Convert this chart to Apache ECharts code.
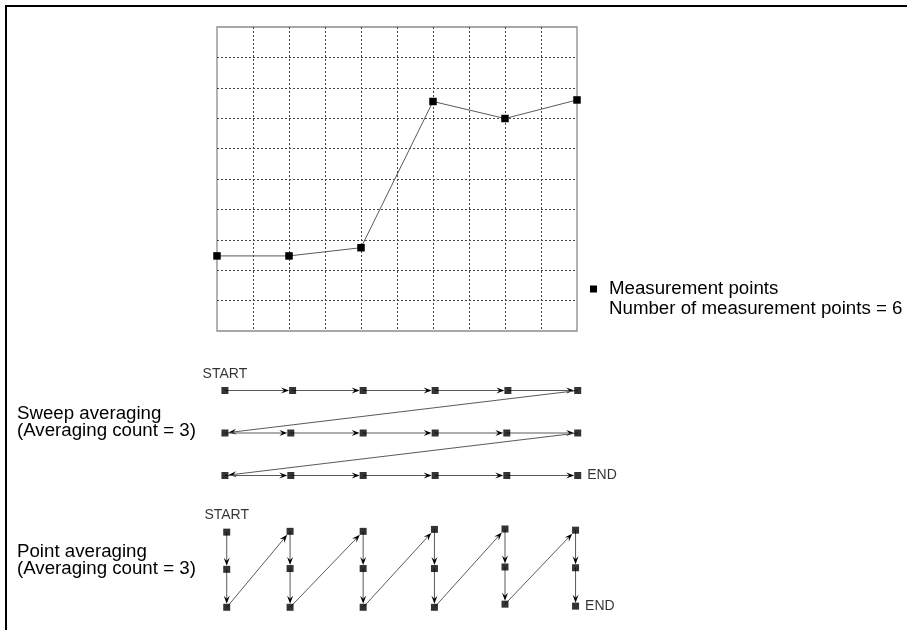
<!DOCTYPE html>
<html>
<head>
<meta charset="utf-8">
<script src="https://cdn.jsdelivr.net/npm/echarts@6/dist/echarts.min.js"></script>
<style>
  html, body { margin: 0; padding: 0; background: #fff; }
  #main { width: 907px; height: 630px; }
</style>
</head>
<body>
<div id="main"></div>
<script>
  // measurement trace (x in grid divisions, y in grid divisions)
  const traceX = [0, 2, 4, 6, 8, 10]
  const traceY = [2.47, 2.47, 2.74, 7.55, 6.99, 7.6]

  // sweep averaging: 3 rows of 6 points, swept row by row
  const sweepX = [
    [0.22, 2.1, 4.06, 6.06, 8.08, 10.02],
    [0.22, 2.05, 4.06, 6.06, 8.05, 10.02],
    [0.22, 2.05, 4.06, 6.06, 8.05, 10.02]
  ]
  const sweepRow = [0, 1, 2]

  // point averaging: 6 columns of 3 points, column by column
  const pointX = [0.27, 2.03, 4.06, 6.04, 8.0, 9.96]
  const pointY = [
    [0.08, 1.03, 2.0],
    [0.06, 1.01, 2.0],
    [0.06, 1.01, 2.0],
    [0.01, 1.01, 2.0],
    [0.0, 0.97, 1.92],
    [0.03, 0.99, 1.97]
  ]

  const FONT = '"Liberation Sans", Arial, sans-serif'

  // build the visiting order of each diagram
  const sweepPath = []
  sweepRow.forEach((r, i) => {
    sweepX[i].forEach(x => sweepPath.push([x, r]))
  })
  const pointPath = []
  pointX.forEach((x, i) => {
    pointY[i].forEach(y => pointPath.push([x, y]))
  })

  function segments(path) {
    const out = []
    for (let i = 0; i < path.length - 1; i++) {
      out.push([path[i][0], path[i][1], path[i + 1][0], path[i + 1][1]])
    }
    return out
  }

  function markers(path) {
    return path.map((p, i) => {
      const item = { value: p }
      if (i === 0) {
        item.label = { show: true, formatter: 'START', position: 'top', distance: 6 }
      } else if (i === path.length - 1) {
        item.label = { show: true, formatter: 'END', position: 'right', distance: 6 }
      }
      return item
    })
  }

  function renderArrow(params, api) {
    const a = api.coord([api.value(0), api.value(1)])
    const b = api.coord([api.value(2), api.value(3)])
    const dx = b[0] - a[0]
    const dy = b[1] - a[1]
    const len = Math.sqrt(dx * dx + dy * dy)
    const ux = dx / len
    const uy = dy / len
    const half = 3.5 / Math.max(Math.abs(ux), Math.abs(uy))
    const tip = [b[0] - ux * half, b[1] - uy * half]
    const headLen = 8
    const headW = 3
    const notchLen = 5
    const base = [tip[0] - ux * headLen, tip[1] - uy * headLen]
    const notch = [tip[0] - ux * notchLen, tip[1] - uy * notchLen]
    const px = -uy
    const py = ux
    return {
      type: 'group',
      children: [{
        type: 'line',
        shape: { x1: a[0], y1: a[1], x2: notch[0], y2: notch[1] },
        style: { stroke: '#5a5a5a', lineWidth: 1 }
      }, {
        type: 'polygon',
        shape: {
          points: [tip, [base[0] + px * headW, base[1] + py * headW], notch, [base[0] - px * headW, base[1] - py * headW]]
        },
        style: { fill: '#000' }
      }]
    }
  }

  const hiddenAxis = {
    type: 'value',
    show: false,
    splitLine: { show: false }
  }

  const chart = echarts.init(document.getElementById('main'))

  chart.setOption({
    animation: false,
    backgroundColor: '#fff',
    textStyle: { fontFamily: FONT },
    title: [{
      text: 'Number of measurement points = 6',
      left: 609,
      top: 299,
      padding: 0,
      textStyle: { fontSize: 18.7, fontWeight: 'normal', color: '#000', fontFamily: FONT }
    }, {
      text: 'Sweep averaging\n(Averaging count = 3)',
      left: 17,
      top: 405,
      padding: 0,
      textStyle: { fontSize: 18.7, fontWeight: 'normal', color: '#000', lineHeight: 17.5, fontFamily: FONT }
    }, {
      text: 'Point averaging\n(Averaging count = 3)',
      left: 17,
      top: 543,
      padding: 0,
      textStyle: { fontSize: 18.7, fontWeight: 'normal', color: '#000', lineHeight: 17.5, fontFamily: FONT }
    }],
    legend: {
      left: 590,
      top: 279.5,
      padding: 0,
      selectedMode: false,
      icon: 'rect',
      itemWidth: 7,
      itemHeight: 7,
      data: ['Measurement points'],
      textStyle: { fontSize: 18.7, color: '#000', padding: [0, 0, 0, 7], fontFamily: FONT }
    },
    graphic: [{
      type: 'line',
      shape: { x1: 6, y1: 5, x2: 6, y2: 630 },
      style: { stroke: '#000', lineWidth: 2 }
    }, {
      type: 'line',
      shape: { x1: 5, y1: 6, x2: 907, y2: 6 },
      style: { stroke: '#000', lineWidth: 2 }
    }],
    grid: [
      { left: 217, top: 27, width: 360, height: 304, show: true, borderColor: '#8a8a8a', borderWidth: 1.3, backgroundColor: 'transparent' },
      { left: 217, top: 390.5, width: 360, height: 85 },
      { left: 217, top: 529, width: 360, height: 78.3 }
    ],
    xAxis: [{
      gridIndex: 0,
      type: 'value',
      min: 0,
      max: 10,
      interval: 1,
      axisLine: { show: false },
      axisTick: { show: false },
      axisLabel: { show: false },
      splitLine: { show: true, showMinLine: false, showMaxLine: false, lineStyle: { color: '#444', width: 1, type: [2, 2] } }
    },
    Object.assign({ gridIndex: 1, min: 0, max: 10 }, hiddenAxis),
    Object.assign({ gridIndex: 2, min: 0, max: 10 }, hiddenAxis)],
    yAxis: [{
      gridIndex: 0,
      type: 'value',
      min: 0,
      max: 10,
      interval: 1,
      axisLine: { show: false },
      axisTick: { show: false },
      axisLabel: { show: false },
      splitLine: { show: true, showMinLine: false, showMaxLine: false, lineStyle: { color: '#444', width: 1, type: [2, 2] } }
    },
    Object.assign({ gridIndex: 1, min: 0, max: 2, inverse: true }, hiddenAxis),
    Object.assign({ gridIndex: 2, min: 0, max: 2, inverse: true }, hiddenAxis)],
    series: [{
      name: 'Measurement points',
      type: 'line',
      xAxisIndex: 0,
      yAxisIndex: 0,
      symbol: 'rect',
      symbolSize: 7.5,
      clip: false,
      itemStyle: { color: '#000' },
      lineStyle: { color: '#5a5a5a', width: 1 },
      data: traceX.map((x, i) => [x, traceY[i]])
    }, {
      name: 'sweepArrows',
      type: 'custom',
      xAxisIndex: 1,
      yAxisIndex: 1,
      z: 2,
      clip: false,
      encode: { x: [0, 2], y: [1, 3] },
      renderItem: renderArrow,
      data: segments(sweepPath)
    }, {
      name: 'sweepPoints',
      type: 'scatter',
      xAxisIndex: 1,
      yAxisIndex: 1,
      z: 3,
      clip: false,
      symbol: 'rect',
      symbolSize: 7,
      itemStyle: { color: '#000' },
      label: { color: '#000', fontSize: 14, fontFamily: FONT },
      data: markers(sweepPath)
    }, {
      name: 'pointArrows',
      type: 'custom',
      xAxisIndex: 2,
      yAxisIndex: 2,
      z: 2,
      clip: false,
      encode: { x: [0, 2], y: [1, 3] },
      renderItem: renderArrow,
      data: segments(pointPath)
    }, {
      name: 'pointPoints',
      type: 'scatter',
      xAxisIndex: 2,
      yAxisIndex: 2,
      z: 3,
      clip: false,
      symbol: 'rect',
      symbolSize: 7,
      itemStyle: { color: '#000' },
      label: { color: '#000', fontSize: 14, fontFamily: FONT },
      data: markers(pointPath)
    }]
  })
</script>
</body>
</html>
